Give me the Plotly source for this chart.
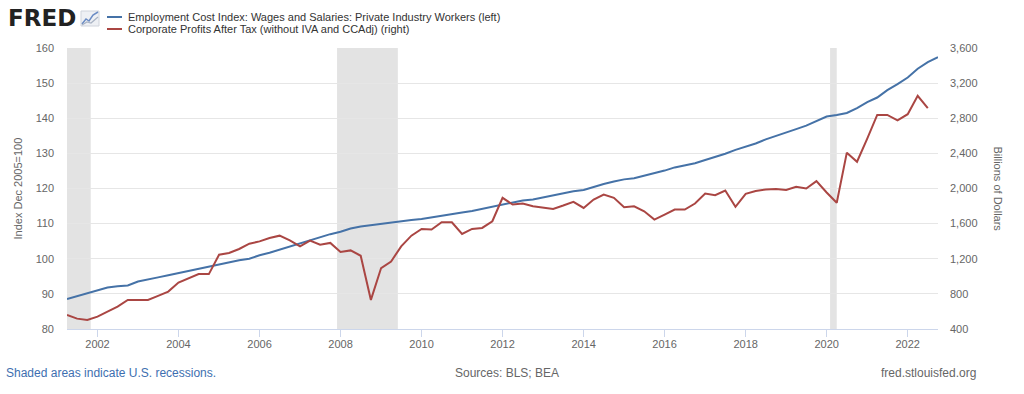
import pandas as pd
import plotly.graph_objects as go

# ---------------- data (quarterly, starting 2001-04-01) ----------------
start_date = "2001-04-01"

eci_wages = [
    88.55, 89.4, 90.2, 90.9, 91.8, 92.2, 92.4, 93.5, 94.0, 94.7,
    95.3, 95.9, 96.5, 97.2, 97.9, 98.4, 98.9, 99.6, 100.0, 101.0,
    101.7, 102.6, 103.45, 104.4, 105.4, 106.1, 107.0, 107.7, 108.6, 109.2,
    109.6, 110.0, 110.3, 110.6, 111.0, 111.3, 111.8, 112.2, 112.8, 113.2,
    113.6, 114.2, 114.8, 115.3, 116.0, 116.6, 116.9, 117.5, 118.2, 118.7,
    119.2, 119.6, 120.5, 121.3, 122.0, 122.6, 122.9, 123.6, 124.4, 125.1,
    126.0, 126.6, 127.2, 128.1, 128.9, 129.9, 131.0, 131.9, 132.8, 134.0,
    134.9, 135.8, 136.9, 137.9, 139.1, 140.5, 140.9, 141.5, 142.9, 144.6,
    145.9, 148.0, 149.7, 151.6, 154.1, 156.0, 157.4,
]

corp_profits = [
    560, 518, 503, 541, 598, 655, 731, 731, 731, 777,
    826, 929, 979, 1025, 1025, 1246, 1265, 1311, 1372, 1398,
    1437, 1463, 1409, 1341, 1406, 1360, 1380, 1277, 1295, 1234,
    731, 1094, 1169, 1341, 1463, 1539, 1532, 1615, 1615, 1482,
    1539, 1551, 1627, 1894, 1817, 1829, 1798, 1779, 1768, 1806,
    1848, 1779, 1874, 1931, 1894, 1787, 1798, 1741, 1646, 1703,
    1760, 1760, 1829, 1943, 1924, 1977, 1791, 1940, 1972, 1989,
    1993, 1983, 2020, 2000, 2084, 1955, 1838, 2408, 2305, 2568,
    2838, 2838, 2777, 2846, 3055, 2914,
]

recessions = [
    ("2001-03-01", "2001-11-01"),
    ("2007-12-01", "2009-06-01"),
    ("2020-02-01", "2020-04-01"),
]

x_range = ["2001-04-01", "2022-10-01"]
left_range = [80, 160]
right_range = [400, 3600]

eci_name = "Employment Cost Index: Wages and Salaries: Private Industry Workers (left)"
cp_name = "Corporate Profits After Tax (without IVA and CCAdj) (right)"

dates_eci = pd.date_range(start=start_date, periods=len(eci_wages), freq="QS")
dates_cp = pd.date_range(start=start_date, periods=len(corp_profits), freq="QS")

# ---------------- layout helpers ----------------
W, H = 1024, 394
PL, PR, PT, PB = 67, 938, 48, 329  # pixel coordinates of the plot area


def px(x):
    return (x - PL) / (PR - PL)


def py(y):
    return (PB - y) / (PB - PT)


BLUE = "#4572a7"
RED = "#aa4643"
FONT = "Liberation Sans, Arial, sans-serif"
GRAY = "#666666"

fig = go.Figure()
fig.add_trace(go.Scatter(x=dates_eci, y=eci_wages, name=eci_name, mode="lines",
                         line=dict(color=BLUE, width=2), yaxis="y"))
fig.add_trace(go.Scatter(x=dates_cp, y=corp_profits, name=cp_name, mode="lines",
                         line=dict(color=RED, width=2), yaxis="y2"))

shapes = []
for a, b in recessions:
    shapes.append(dict(type="rect", xref="x", yref="paper", x0=a, x1=b, y0=0, y1=1,
                       fillcolor="#e3e3e3", line=dict(width=0), layer="below"))

# legend samples
for yy, col in [(17, BLUE), (29, RED)]:
    shapes.append(dict(type="line", xref="paper", yref="paper",
                       x0=px(107), x1=px(122), y0=py(yy), y1=py(yy),
                       line=dict(color=col, width=2)))

# FRED icon
shapes.append(dict(type="rect", xref="paper", yref="paper",
                   x0=px(81), x1=px(99), y0=py(26), y1=py(11),
                   fillcolor="#eef0f4", line=dict(color="#d0d4dc", width=1)))
icon_path_1 = "M {} {} L {} {} L {} {} L {} {} L {} {}".format(
    px(82), py(24), px(86), py(19), px(89), py(21), px(93), py(15), px(98), py(12))
icon_path_2 = "M {} {} L {} {} L {} {} L {} {}".format(
    px(82), py(25), px(87), py(22), px(91), py(23), px(98), py(17))
shapes.append(dict(type="path", xref="paper", yref="paper", path=icon_path_1,
                   line=dict(color="#6b8cc4", width=1.5)))
shapes.append(dict(type="path", xref="paper", yref="paper", path=icon_path_2,
                   line=dict(color="#a9b3c4", width=1.2)))

annotations = [
    dict(text="<b>FRED</b>", x=px(6), y=py(18), xref="paper", yref="paper",
         xanchor="left", yanchor="middle", showarrow=False,
         font=dict(family="DejaVu Sans, sans-serif", size=23, color="#222222")),
    dict(text=eci_name, x=px(126), y=py(17), xref="paper", yref="paper",
         xanchor="left", yanchor="middle", showarrow=False,
         font=dict(family=FONT, size=11, color="#333333")),
    dict(text=cp_name, x=px(126), y=py(29), xref="paper", yref="paper",
         xanchor="left", yanchor="middle", showarrow=False,
         font=dict(family=FONT, size=11, color="#333333")),
    dict(text="Index Dec 2005=100", x=px(17), y=0.5, xref="paper", yref="paper",
         xanchor="center", yanchor="middle", textangle=-90, showarrow=False,
         font=dict(family=FONT, size=11, color=GRAY)),
    dict(text="Billions of Dollars", x=px(998), y=0.5, xref="paper", yref="paper",
         xanchor="center", yanchor="middle", textangle=90, showarrow=False,
         font=dict(family=FONT, size=11, color=GRAY)),
    dict(text="Shaded areas indicate U.S. recessions.", x=px(4), y=py(373),
         xref="paper", yref="paper", xanchor="left", yanchor="middle", showarrow=False,
         font=dict(family=FONT, size=12, color="#3e6fb0")),
    dict(text="Sources: BLS; BEA", x=px(507), y=py(373),
         xref="paper", yref="paper", xanchor="center", yanchor="middle", showarrow=False,
         font=dict(family=FONT, size=12, color=GRAY)),
    dict(text="fred.stlouisfed.org", x=px(978), y=py(373),
         xref="paper", yref="paper", xanchor="right", yanchor="middle", showarrow=False,
         font=dict(family=FONT, size=12, color=GRAY)),
]

fig.update_layout(
    width=W, height=H,
    margin=dict(l=PL, r=W - PR, t=PT, b=H - PB, pad=0),
    paper_bgcolor="white", plot_bgcolor="white",
    showlegend=False,
    hovermode=False,
    font=dict(family=FONT, size=11, color=GRAY),
    shapes=shapes,
    annotations=annotations,
    xaxis=dict(
        type="date", range=x_range, tick0="2002-01-01", dtick="M24", tickformat="%Y",
        showgrid=False, showline=True, linecolor="#ccd6eb", linewidth=1,
        ticks="outside", ticklen=7, tickcolor="#ccd6eb", ticklabelstandoff=-2,
        tickfont=dict(family=FONT, size=11, color=GRAY), zeroline=False,
    ),
    yaxis=dict(
        range=left_range, dtick=10, showgrid=True, gridcolor="#e6e6e6", gridwidth=1,
        zeroline=False, showline=False, ticks="", ticklabelstandoff=12,
        tickfont=dict(family=FONT, size=11, color=GRAY),
    ),
    yaxis2=dict(
        range=right_range, dtick=400, overlaying="y", side="right", showgrid=False,
        zeroline=False, showline=False, ticks="", tickformat=",", ticklabelstandoff=11,
        tickfont=dict(family=FONT, size=11, color=GRAY),
    ),
)

# Remove the browser's default 8px page margin so the figure fills the window.
fig.write_html("out.html",
               config={"displayModeBar": False, "staticPlot": True},
               post_script="document.body.style.margin='0';document.body.style.overflow='hidden';")
